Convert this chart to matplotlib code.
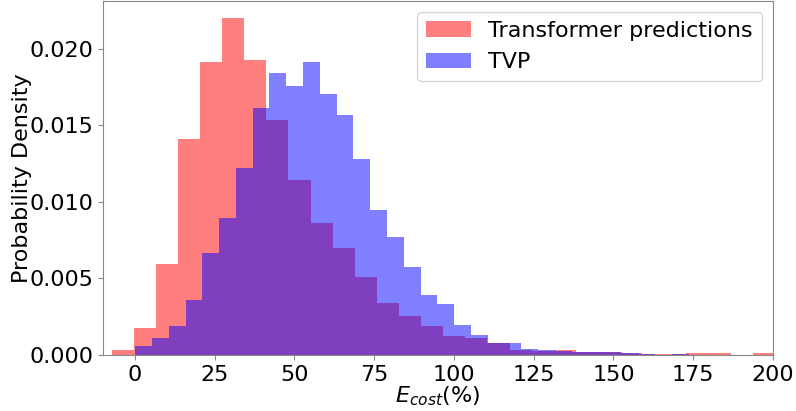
import numpy as np
import matplotlib
matplotlib.use("Agg")
import matplotlib.pyplot as plt

# Bin edges (data units)
red_start, red_width = -7.3, 6.93
blue_start, blue_width = 0.1, 5.26

transformer_density = [0.00033, 0.00175, 0.00593, 0.01411, 0.01909, 0.02200, 0.01928,
                       0.01536, 0.01139, 0.00864, 0.00698, 0.00506, 0.00340, 0.00257,
                       0.00192, 0.00122, 0.00109, 0.00077, 0.00033, 0.00026, 0.00033,
                       0.00022, 0.00022, 0.00010, 0.00007, 0.00007, 0.00010, 0.00010,
                       0.00003, 0.00010]

tvp_density = [0.00059, 0.00109, 0.00192, 0.00360, 0.00665, 0.00896, 0.01222, 0.01614,
               0.01843, 0.01756, 0.01911, 0.01705, 0.01563, 0.01276, 0.00949, 0.00770,
               0.00574, 0.00393, 0.00336, 0.00196, 0.00131, 0.00081, 0.00076, 0.00039,
               0.00033, 0.00028, 0.00022, 0.00017, 0.00020, 0.00011, 0.00007, 0.00003,
               0.00007, 0.00002, 0.00002, 0.00003, 0.00003]

red_edges = red_start + red_width * np.arange(len(transformer_density) + 1)
blue_edges = blue_start + blue_width * np.arange(len(tvp_density) + 1)

FS = 16

fig = plt.figure(figsize=(7.96, 4.11), dpi=100)
ax = fig.add_axes([103/796, 1 - 355/411, (773 - 103)/796, (355 - 1)/411])

ax.hist(red_edges[:-1], bins=red_edges, weights=transformer_density,
        color='red', alpha=0.5, label='Transformer predictions')
ax.hist(blue_edges[:-1], bins=blue_edges, weights=tvp_density,
        color='blue', alpha=0.5, label='TVP')

ax.set_xlim(-10, 200)
ax.set_xticks([0, 25, 50, 75, 100, 125, 150, 175, 200])
ax.set_yticks([0.0, 0.005, 0.010, 0.015, 0.020])
ax.set_yticklabels(['0.000', '0.005', '0.010', '0.015', '0.020'])

for s in ax.spines.values():
    s.set_color('#888888')
ax.tick_params(axis='both', colors='#888888', labelcolor='black', labelsize=FS)

ax.set_xlabel(r'$E_{cost}$(%)', fontsize=FS, labelpad=0)
ax.set_ylabel('Probability Density', fontsize=FS, labelpad=-2)
ax.legend(loc='upper right', fontsize=FS)

fig.savefig('out.png', dpi=100)
